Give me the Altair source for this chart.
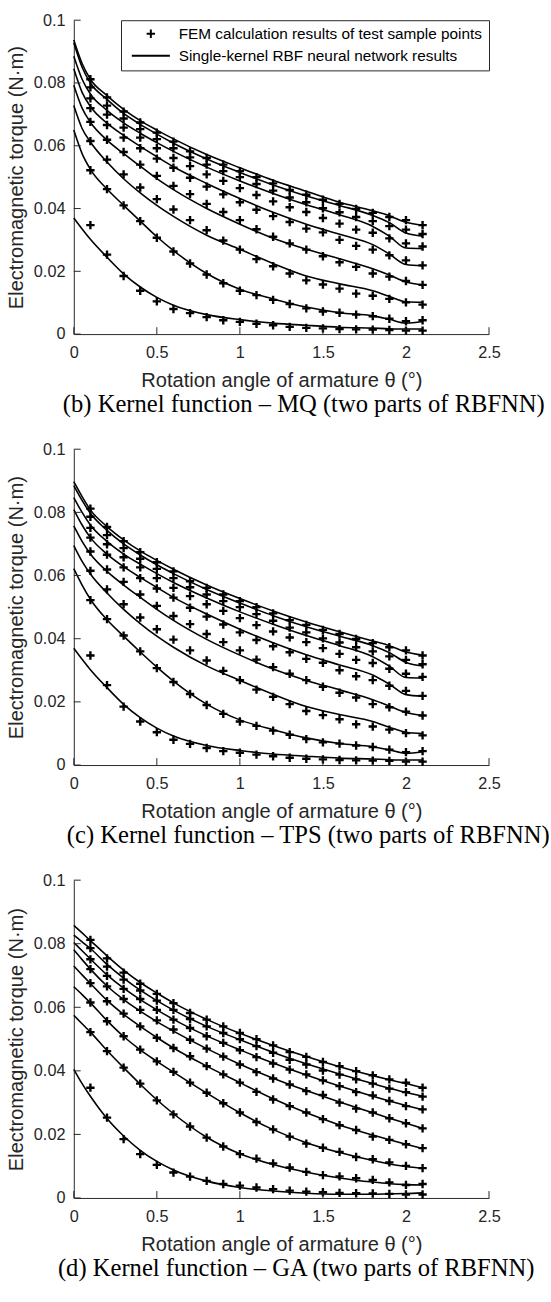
import altair as alt
import pandas as pd

# Rotation angles of the FEM test samples (deg)
THETA_TEST = [0.1, 0.2, 0.3, 0.4, 0.5, 0.6, 0.7, 0.8, 0.9, 1.0, 1.1,
              1.2, 1.3, 1.4, 1.5, 1.6, 1.7, 1.8, 1.9, 2.0, 2.1]

# FEM torque of the test samples, one list per excitation level (N·m)
FEM_1 = [0.0812, 0.0754, 0.0709, 0.0674, 0.0642, 0.0613, 0.0582, 0.0561, 0.0540, 0.0519, 0.0500,
         0.0480, 0.0459, 0.0444, 0.0428, 0.0415, 0.0399, 0.0386, 0.0373, 0.0363, 0.0347]
FEM_2 = [0.0786, 0.0728, 0.0687, 0.0653, 0.0621, 0.0592, 0.0563, 0.0540, 0.0519, 0.0500, 0.0478,
         0.0457, 0.0435, 0.0420, 0.0401, 0.0388, 0.0373, 0.0360, 0.0344, 0.0333, 0.0319]
FEM_3 = [0.0751, 0.0699, 0.0658, 0.0626, 0.0592, 0.0561, 0.0535, 0.0509, 0.0488, 0.0465, 0.0443,
         0.0423, 0.0404, 0.0389, 0.0370, 0.0352, 0.0333, 0.0323, 0.0305, 0.0289, 0.0279]
FEM_4 = [0.0720, 0.0666, 0.0626, 0.0592, 0.0559, 0.0530, 0.0498, 0.0470, 0.0445, 0.0420, 0.0396,
         0.0376, 0.0357, 0.0336, 0.0324, 0.0300, 0.0281, 0.0269, 0.0251, 0.0235, 0.0219]
FEM_5 = [0.0676, 0.0619, 0.0580, 0.0540, 0.0504, 0.0472, 0.0446, 0.0415, 0.0389, 0.0363, 0.0334,
         0.0310, 0.0289, 0.0269, 0.0248, 0.0229, 0.0214, 0.0193, 0.0183, 0.0169, 0.0157]
FEM_6 = [0.0615, 0.0556, 0.0509, 0.0467, 0.0430, 0.0397, 0.0363, 0.0331, 0.0298, 0.0269, 0.0239,
         0.0216, 0.0193, 0.0171, 0.0158, 0.0145, 0.0129, 0.0122, 0.0112, 0.0101, 0.0094]
FEM_7 = [0.0522, 0.0462, 0.0410, 0.0360, 0.0307, 0.0263, 0.0225, 0.0190, 0.0162, 0.0138, 0.0124,
         0.0109, 0.0096, 0.0082, 0.0072, 0.0068, 0.0062, 0.0057, 0.0049, 0.0041, 0.0044]
FEM_8 = [0.0347, 0.0253, 0.0185, 0.0138, 0.0104, 0.0080, 0.0067, 0.0054, 0.0044, 0.0039, 0.0033,
         0.0028, 0.0023, 0.0020, 0.0018, 0.0016, 0.0015, 0.0014, 0.0013, 0.0011, 0.0011]
FEM = [FEM_1, FEM_2, FEM_3, FEM_4, FEM_5, FEM_6, FEM_7, FEM_8]

# Angles at which the network output curves are listed (deg)
THETA_FIT = [0, 0.05, 0.1, 0.2, 0.3, 0.4, 0.5, 0.6, 0.8, 1.0, 1.2, 1.4, 1.6, 1.8, 1.9, 2.0, 2.1]

# Network output with the multiquadric kernel
MQ_FIT = [
    [0.0937, 0.0862, 0.0812, 0.0760, 0.0716, 0.0680, 0.0650, 0.0622, 0.0572, 0.0530, 0.0490, 0.0455, 0.0420, 0.0393, 0.0377, 0.0356, 0.0347],
    [0.0928, 0.0850, 0.0800, 0.0748, 0.0703, 0.0668, 0.0637, 0.0608, 0.0558, 0.0515, 0.0475, 0.0440, 0.0410, 0.0378, 0.0355, 0.0322, 0.0312],
    [0.0885, 0.0812, 0.0765, 0.0713, 0.0673, 0.0640, 0.0610, 0.0582, 0.0532, 0.0488, 0.0448, 0.0412, 0.0380, 0.0343, 0.0312, 0.0274, 0.0272],
    [0.0845, 0.0770, 0.0725, 0.0672, 0.0633, 0.0598, 0.0565, 0.0533, 0.0480, 0.0432, 0.0388, 0.0350, 0.0318, 0.0285, 0.0255, 0.0222, 0.0218],
    [0.0793, 0.0720, 0.0675, 0.0618, 0.0575, 0.0535, 0.0495, 0.0460, 0.0400, 0.0350, 0.0305, 0.0270, 0.0240, 0.0208, 0.0188, 0.0166, 0.0157],
    [0.0728, 0.0655, 0.0612, 0.0548, 0.0495, 0.0450, 0.0410, 0.0375, 0.0315, 0.0270, 0.0225, 0.0185, 0.0160, 0.0138, 0.0120, 0.0103, 0.0101],
    [0.0650, 0.0575, 0.0525, 0.0462, 0.0410, 0.0360, 0.0310, 0.0266, 0.0193, 0.0143, 0.0112, 0.0086, 0.0068, 0.0058, 0.0047, 0.0035, 0.0040],
    [0.0370, 0.0335, 0.0302, 0.0245, 0.0192, 0.0150, 0.0117, 0.0092, 0.0062, 0.0046, 0.0035, 0.0028, 0.0022, 0.0019, 0.0017, 0.0016, 0.0016],
]

# Network output with the thin-plate-spline kernel
TPS_FIT = [
    [0.0897, 0.0850, 0.0808, 0.0755, 0.0713, 0.0678, 0.0648, 0.0620, 0.0570, 0.0527, 0.0488, 0.0453, 0.0422, 0.0393, 0.0378, 0.0358, 0.0348],
    [0.0885, 0.0838, 0.0797, 0.0743, 0.0700, 0.0665, 0.0634, 0.0606, 0.0556, 0.0513, 0.0473, 0.0438, 0.0408, 0.0378, 0.0356, 0.0325, 0.0314],
    [0.0847, 0.0800, 0.0760, 0.0708, 0.0668, 0.0636, 0.0606, 0.0578, 0.0529, 0.0485, 0.0446, 0.0410, 0.0378, 0.0343, 0.0313, 0.0277, 0.0275],
    [0.0809, 0.0760, 0.0720, 0.0668, 0.0628, 0.0594, 0.0562, 0.0531, 0.0478, 0.0430, 0.0387, 0.0349, 0.0317, 0.0285, 0.0256, 0.0223, 0.0218],
    [0.0757, 0.0708, 0.0668, 0.0613, 0.0570, 0.0531, 0.0493, 0.0458, 0.0398, 0.0348, 0.0304, 0.0268, 0.0238, 0.0207, 0.0187, 0.0166, 0.0157],
    [0.0695, 0.0645, 0.0605, 0.0545, 0.0493, 0.0448, 0.0408, 0.0373, 0.0314, 0.0268, 0.0224, 0.0185, 0.0160, 0.0138, 0.0120, 0.0104, 0.0100],
    [0.0622, 0.0570, 0.0525, 0.0460, 0.0408, 0.0358, 0.0310, 0.0266, 0.0193, 0.0143, 0.0112, 0.0086, 0.0068, 0.0058, 0.0048, 0.0037, 0.0042],
    [0.0370, 0.0335, 0.0302, 0.0245, 0.0192, 0.0150, 0.0117, 0.0092, 0.0062, 0.0046, 0.0035, 0.0028, 0.0022, 0.0019, 0.0017, 0.0016, 0.0016],
]

# Network output with the Gaussian kernel
GA_FIT = [
    [0.0858, 0.0834, 0.0810, 0.0762, 0.0717, 0.0678, 0.0645, 0.0614, 0.0562, 0.0518, 0.0480, 0.0445, 0.0413, 0.0385, 0.0372, 0.0360, 0.0347],
    [0.0827, 0.0806, 0.0785, 0.0735, 0.0692, 0.0654, 0.0621, 0.0591, 0.0540, 0.0498, 0.0458, 0.0422, 0.0390, 0.0360, 0.0345, 0.0332, 0.0320],
    [0.0804, 0.0778, 0.0752, 0.0702, 0.0660, 0.0624, 0.0592, 0.0562, 0.0510, 0.0466, 0.0425, 0.0387, 0.0352, 0.0320, 0.0305, 0.0291, 0.0278],
    [0.0781, 0.0750, 0.0720, 0.0667, 0.0624, 0.0588, 0.0555, 0.0525, 0.0470, 0.0421, 0.0377, 0.0338, 0.0302, 0.0268, 0.0251, 0.0235, 0.0219],
    [0.0730, 0.0702, 0.0675, 0.0622, 0.0578, 0.0540, 0.0505, 0.0472, 0.0415, 0.0363, 0.0312, 0.0268, 0.0230, 0.0198, 0.0183, 0.0169, 0.0156],
    [0.0665, 0.0640, 0.0614, 0.0558, 0.0508, 0.0466, 0.0430, 0.0396, 0.0330, 0.0268, 0.0215, 0.0174, 0.0143, 0.0118, 0.0107, 0.0099, 0.0093],
    [0.0575, 0.0548, 0.0522, 0.0464, 0.0410, 0.0358, 0.0309, 0.0265, 0.0191, 0.0139, 0.0105, 0.0081, 0.0063, 0.0050, 0.0045, 0.0042, 0.0041],
    [0.0405, 0.0360, 0.0320, 0.0250, 0.0195, 0.0150, 0.0115, 0.0088, 0.0053, 0.0033, 0.0022, 0.0015, 0.0012, 0.0012, 0.0013, 0.0014, 0.0016],
]

X_TICKS = [0, 0.5, 1, 1.5, 2, 2.5]
Y_TICKS = [0, 0.02, 0.04, 0.06, 0.08, 0.1]

FEM_LABEL = "FEM calculation results of test sample points"
FIT_LABEL = "Single-kernel RBF neural network results"
CAPTIONS = [
    "(b) Kernel function \u2013 MQ (two parts of RBFNN)",
    "(c) Kernel function \u2013 TPS (two parts of RBFNN)",
    "(d) Kernel function \u2013 GA (two parts of RBFNN)",
]

PLUS = "M-1,0H1M0,-1V1"
DASH = "M-4.56,0H4.56"
INK = "#262626"
W = 422
TICK_LEN = 7

fem_df = pd.DataFrame(
    [{"theta": t, "torque": v, "kind": FEM_LABEL, "level": k}
     for k, series in enumerate(FEM) for t, v in zip(THETA_TEST, series)]
)
xt_df = pd.DataFrame({"theta": X_TICKS})
yt_df = pd.DataFrame({"torque": Y_TICKS})


def fit_frame(fit):
    return pd.DataFrame(
        [{"theta": t, "torque": v, "level": k}
         for k, series in enumerate(fit) for t, v in zip(THETA_FIT, series)]
    )


x_enc = alt.X(
    "theta:Q",
    scale=alt.Scale(domain=[0, 2.5], nice=False, zero=False),
    axis=alt.Axis(values=X_TICKS, format="~g", title="Rotation angle of armature \u03b8 (\u00b0)",
                  labelFlush=False, labelOverlap=False, labelPadding=11, titlePadding=10),
)
y_enc = alt.Y(
    "torque:Q",
    scale=alt.Scale(domain=[0, 0.1], nice=False),
    axis=alt.Axis(values=Y_TICKS, format="~g", title="Electromagnetic torque (N\u00b7m)",
                  labelFlush=False, labelOverlap=False, labelPadding=9, titlePadding=7),
)


def panel(fit, caption, height, cap_dx):
    curves = alt.Chart(fit_frame(fit)).mark_line(
        color="black", strokeWidth=1.6, interpolate="monotone"
    ).encode(x=x_enc, y=y_enc, detail="level:N")

    points = alt.Chart(fem_df).mark_point(
        filled=False, size=72, strokeWidth=2.4, color="black", opacity=1
    ).encode(
        x="theta:Q",
        y="torque:Q",
        shape=alt.Shape(
            "kind:N",
            scale=alt.Scale(domain=[FEM_LABEL, FIT_LABEL], range=[PLUS, DASH]),
            legend=alt.Legend(
                title=None, orient="top-right", offset=0, padding=6,
                symbolOffset=16.5, labelOffset=20.5, rowPadding=5.4,
                strokeColor=INK, fillColor="white",
                labelFont="Liberation Sans", labelFontSize=15.6, labelColor="black",
                labelLimit=0, symbolSize=72, symbolStrokeWidth=2,
                symbolStrokeColor="black", symbolFillColor="transparent",
            ),
        ),
    )

    xticks = alt.Chart(xt_df).mark_rule(color=INK, strokeWidth=1).encode(
        x="theta:Q", y=alt.value(height), y2=alt.value(height - TICK_LEN)
    )
    yticks = alt.Chart(yt_df).mark_rule(color=INK, strokeWidth=1).encode(
        y="torque:Q", x=alt.value(0), x2=alt.value(TICK_LEN)
    )

    return alt.layer(curves, points, xticks, yticks).properties(
        width=W, height=height,
        title=alt.TitleParams(
            caption, orient="bottom", anchor="start", frame="bounds",
            font="Liberation Serif", fontSize=25, fontWeight="normal",
            color="black", offset=1, dx=cap_dx,
        ),
    )


chart = alt.vconcat(
    panel(MQ_FIT, CAPTIONS[0], 319, 57),
    panel(TPS_FIT, CAPTIONS[1], 321, 61),
    panel(GA_FIT, CAPTIONS[2], 323, 52),
    spacing=25,
).properties(
    padding={"left": 6, "top": 2, "right": 0, "bottom": 0},
).configure_view(stroke=None).configure_axis(
    grid=False, ticks=False, domainColor=INK, domainWidth=1,
    labelColor=INK, titleColor=INK, labelFont="Liberation Sans", titleFont="Liberation Sans",
    labelFontSize=16.5, titleFontSize=20.4, titleFontWeight="normal",
)

chart.save("out.html", embed_options={"renderer": "svg", "actions": False})
